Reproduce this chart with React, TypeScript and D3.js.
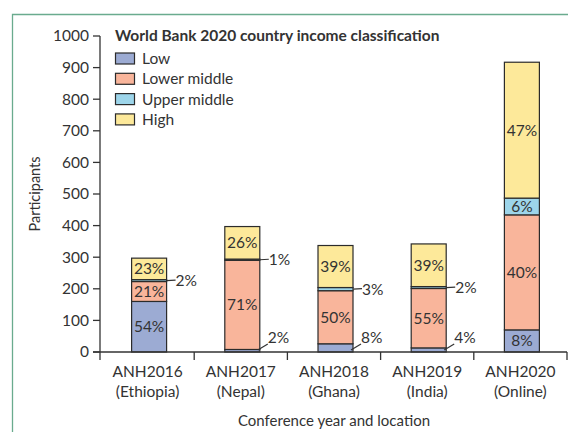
import React from "react";
import * as d3 from "d3";

const categories = ["ANH2016", "ANH2017", "ANH2018", "ANH2019", "ANH2020"];
const locations = ["(Ethiopia)", "(Nepal)", "(Ghana)", "(India)", "(Online)"];
const seriesNames = ["Low", "Lower middle", "Upper middle", "High"];
const lowValues = [160, 8, 26, 13, 70];
const lowerMiddleValues = [63, 282, 168, 188, 364];
const upperMiddleValues = [6, 4, 10, 6, 53];
const highValues = [68, 103, 133, 135, 430];
const lowLabels = ["54%", "2%", "8%", "4%", "8%"];
const lowerMiddleLabels = ["21%", "71%", "50%", "55%", "40%"];
const upperMiddleLabels = ["2%", "1%", "3%", "2%", "6%"];
const highLabels = ["23%", "26%", "39%", "39%", "47%"];
const yTicks = [0, 100, 200, 300, 400, 500, 600, 700, 800, 900, 1000];
const legendTitle = "World Bank 2020 country income classification";
const yTitle = "Participants";
const xTitle = "Conference year and location";

const colors = ["#9cabd3", "#f9b59b", "#9dd5ea", "#fde99a"];
const FONT = "Lato, 'Open Sans', sans-serif";
const TEXT = "#333";

export default function App() {
  const W = 568, H = 432;
  const y = d3.scaleLinear().domain([0, 1000]).range([352, 36]);
  const x = d3.scaleBand<string>().domain(categories).range([101, 567]).padding(0);
  const step = x.step();
  const bw = 35;
  const values = [lowValues, lowerMiddleValues, upperMiddleValues, highValues];
  const labels = [lowLabels, lowerMiddleLabels, upperMiddleLabels, highLabels];
  const stackData = categories.map((c, i) => ({
    cat: c,
    low: lowValues[i],
    lm: lowerMiddleValues[i],
    um: upperMiddleValues[i],
    high: highValues[i],
  }));
  const stacked = d3.stack<any>().keys(["low", "lm", "um", "high"])(stackData);

  const barX = (c: string) => (x(c) as number) + (step - bw) / 2 + 1.5;
  const LBL = 15.5;

  return (
    <svg width={W} height={H} style={{ position: "absolute", left: 0, top: 0 }} fontFamily={FONT}>
      <rect x={0} y={0} width={W} height={H} fill="#fff" />
      {/* frame */}
      <path d={`M12.5,${H}V14.5H${W}`} fill="none" stroke="#6aab8e" strokeWidth={1.3} />

      {/* bars */}
      {stacked.map((layer, si) => (
        <g key={si}>
          {layer.map((d, ci) => {
            const c = categories[ci];
            const x0 = barX(c);
            const y0 = y(d[0]);
            const y1 = y(d[1]);
            return (
              <rect key={ci} x={x0} y={y1} width={bw} height={y0 - y1}
                fill={colors[si]} stroke="#2b2b2b" strokeWidth={1.2} />
            );
          })}
        </g>
      ))}

      {/* labels */}
      {stacked.map((layer, si) => (
        <g key={"l" + si}>
          {layer.map((d, ci) => {
            const c = categories[ci];
            const x0 = barX(c);
            const x1 = x0 + bw;
            const v = values[si][ci];
            const lab = labels[si][ci];
            const mid = y((d[0] + d[1]) / 2);
            if (v >= 40) {
              return (
                <text key={ci} x={x0 + bw / 2} y={mid} dy="0.35em" textAnchor="middle"
                  fontSize={LBL} fill={TEXT}>{lab}</text>
              );
            }
            if (si === 0) {
              const yb = y(0);
              return (
                <g key={ci}>
                  <line x1={x1 - 2} y1={yb - 2} x2={x1 + 8} y2={yb - 8} stroke={TEXT} strokeWidth={1.2} />
                  <text x={x1 + 8} y={yb - 14} dy="0.35em" fontSize={LBL} fill={TEXT}>{lab}</text>
                </g>
              );
            }
            return (
              <g key={ci}>
                <line x1={x1} y1={mid} x2={x1 + 9} y2={mid - 0.5} stroke={TEXT} strokeWidth={1.2} />
                <text x={x1 + 9} y={mid} dy="0.35em" fontSize={LBL} fill={TEXT}>{lab}</text>
              </g>
            );
          })}
        </g>
      ))}

      {/* y axis */}
      <line x1={100} x2={100} y1={y(1000)} y2={y(0) + 8} stroke={TEXT} strokeWidth={1.3} />
      {yTicks.map((t) => (
        <g key={t}>
          <line x1={93} x2={100} y1={y(t)} y2={y(t)} stroke={TEXT} strokeWidth={1.3} />
          <text x={89} y={y(t)} dy="0.35em" textAnchor="end" fontSize={15.5} fill={TEXT}>{t}</text>
        </g>
      ))}
      <text transform={`translate(40,${(y(0) + y(1000)) / 2}) rotate(-90)`} textAnchor="middle"
        fontSize={14.5} fill={TEXT}>{yTitle}</text>

      {/* x axis */}
      <line x1={93} x2={567} y1={y(0)} y2={y(0)} stroke={TEXT} strokeWidth={1.3} />
      {categories.map((c, i) => (
        <g key={c}>
          <line x1={(x(c) as number) + step} x2={(x(c) as number) + step} y1={y(0)} y2={y(0) + 8}
            stroke={TEXT} strokeWidth={1.3} />
          <text x={(x(c) as number) + step / 2} y={372} dy="0.35em" textAnchor="middle" fontSize={15.5} fill={TEXT}>{c}</text>
          <text x={(x(c) as number) + step / 2} y={392} dy="0.35em" textAnchor="middle" fontSize={15.5} fill={TEXT}>{locations[i]}</text>
        </g>
      ))}
      <text x={(101 + 567) / 2} y={421} dy="0.35em" textAnchor="middle" fontSize={15} fill={TEXT}>{xTitle}</text>

      {/* legend */}
      <text x={115} y={36} dy="0.35em" fontSize={15.5} fontWeight="bold" fill={TEXT}>{legendTitle}</text>
      {seriesNames.map((s, i) => (
        <g key={s}>
          <rect x={115.5} y={53 + i * 20.3} width={19} height={11} fill={colors[i]} stroke="#2b2b2b" strokeWidth={1.2} />
          <text x={142} y={58.5 + i * 20.3} dy="0.35em" fontSize={15.5} fill={TEXT}>{s}</text>
        </g>
      ))}
    </svg>
  );
}
